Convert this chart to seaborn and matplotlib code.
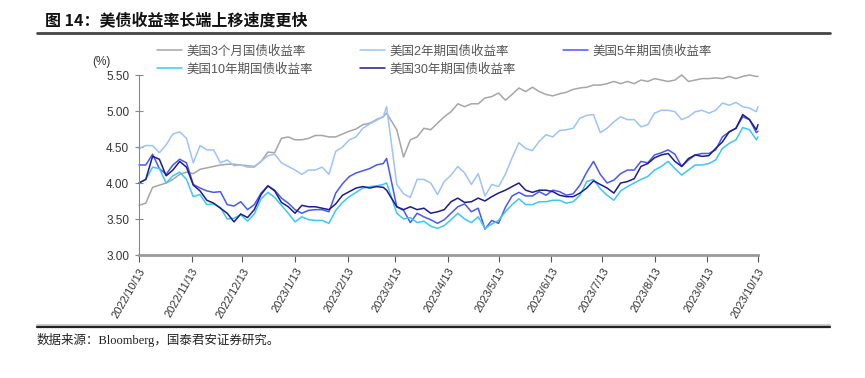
import pandas as pd
import matplotlib
matplotlib.use("Agg")
import matplotlib.pyplot as plt
import seaborn as sns
from matplotlib.lines import Line2D

# sample days from 2022/10/13
days = list(range(0, 148, 4)) + [146] + list(range(152, 365, 4)) + [365]

y3m = [3.69, 3.72, 3.94, 3.97, 4.00, 4.05, 4.12, 4.15, 4.13, 4.19, 4.21, 4.23, 4.25, 4.26, 4.26, 4.25, 4.24, 4.23, 4.30, 4.43, 4.42, 4.62, 4.64, 4.60,
       4.60, 4.62, 4.66, 4.66, 4.64, 4.64, 4.68, 4.72, 4.75, 4.81, 4.83, 4.88, 4.92, 4.97, 4.74, 4.36, 4.60, 4.64, 4.76, 4.74, 4.83, 4.92, 4.99,
       5.10, 5.06, 5.10, 5.10, 5.18, 5.20, 5.25, 5.15, 5.23, 5.32, 5.27, 5.33, 5.27, 5.23, 5.21, 5.24, 5.26, 5.30, 5.32, 5.33, 5.36, 5.36, 5.38,
       5.41, 5.38, 5.41, 5.38, 5.43, 5.41, 5.45, 5.43, 5.41, 5.43, 5.50, 5.41, 5.43, 5.45, 5.45, 5.46, 5.45, 5.48, 5.45, 5.48, 5.50, 5.48, 5.48]
y2y = [4.48, 4.52, 4.52, 4.42, 4.53, 4.68, 4.71, 4.62, 4.28, 4.52, 4.46, 4.46, 4.28, 4.32, 4.24, 4.25, 4.22, 4.22, 4.30, 4.38, 4.40, 4.28, 4.23, 4.18,
       4.12, 4.18, 4.18, 4.22, 4.12, 4.44, 4.50, 4.60, 4.64, 4.76, 4.82, 4.87, 4.92, 5.06, 3.98, 3.85, 3.80, 4.05, 4.05, 4.00, 3.84, 4.02, 4.11,
       4.23, 4.14, 3.98, 4.13, 3.82, 3.98, 3.95, 4.12, 4.35, 4.56, 4.48, 4.45, 4.58, 4.67, 4.64, 4.73, 4.74, 4.76, 4.90, 4.94, 4.95, 4.70, 4.76,
       4.85, 4.92, 4.88, 4.88, 4.78, 4.81, 4.97, 5.01, 5.01, 4.99, 4.88, 4.92, 4.99, 5.01, 4.97, 5.01, 5.11, 5.08, 5.12, 5.06, 5.04, 4.99, 5.06]
y5y = [4.25, 4.25, 4.40, 4.20, 4.12, 4.25, 4.33, 4.28, 3.98, 3.93, 3.89, 3.87, 3.88, 3.70, 3.68, 3.74, 3.63, 3.70, 3.86, 3.96, 3.90, 3.79, 3.72, 3.63,
       3.58, 3.62, 3.63, 3.63, 3.60, 3.86, 3.99, 4.09, 4.14, 4.17, 4.20, 4.25, 4.27, 4.34, 3.67, 3.62, 3.45, 3.58, 3.53, 3.49, 3.44, 3.49, 3.58,
       3.67, 3.71, 3.60, 3.65, 3.36, 3.48, 3.44, 3.66, 3.82, 3.87, 3.82, 3.82, 3.88, 3.83, 3.90, 3.88, 3.83, 3.85, 3.97, 4.15, 4.30, 4.12, 4.00,
       4.04, 4.13, 4.18, 4.18, 4.30, 4.28, 4.39, 4.42, 4.46, 4.40, 4.23, 4.32, 4.39, 4.41, 4.41, 4.46, 4.64, 4.71, 4.76, 4.92, 4.88, 4.70, 4.72]
y10y = [4.00, 4.05, 4.22, 4.20, 4.00, 4.10, 4.15, 4.05, 3.81, 3.84, 3.70, 3.71, 3.66, 3.50, 3.51, 3.56, 3.47, 3.57, 3.78, 3.87, 3.80, 3.69, 3.58, 3.46,
        3.53, 3.49, 3.48, 3.48, 3.44, 3.62, 3.73, 3.81, 3.87, 3.93, 3.95, 3.96, 3.98, 4.00, 3.58, 3.50, 3.52, 3.45, 3.47, 3.40, 3.37, 3.41, 3.49,
        3.58, 3.50, 3.45, 3.53, 3.37, 3.43, 3.48, 3.60, 3.70, 3.78, 3.70, 3.70, 3.74, 3.74, 3.76, 3.76, 3.72, 3.74, 3.83, 4.02, 4.05, 3.92, 3.83,
        3.76, 3.89, 3.95, 4.00, 4.05, 4.09, 4.18, 4.23, 4.30, 4.20, 4.11, 4.18, 4.25, 4.25, 4.27, 4.32, 4.48, 4.55, 4.60, 4.77, 4.74, 4.60, 4.64]
y30y = [4.00, 4.05, 4.37, 4.33, 4.10, 4.18, 4.30, 4.22, 3.97, 3.89, 3.76, 3.72, 3.65, 3.58, 3.46, 3.57, 3.52, 3.63, 3.84, 3.96, 3.89, 3.73, 3.67, 3.58,
        3.69, 3.67, 3.67, 3.65, 3.63, 3.71, 3.83, 3.88, 3.93, 3.95, 3.93, 3.95, 3.94, 3.90, 3.67, 3.63, 3.67, 3.63, 3.65, 3.58, 3.60, 3.63, 3.74,
        3.79, 3.73, 3.74, 3.79, 3.75, 3.81, 3.86, 3.90, 3.95, 4.00, 3.90, 3.87, 3.90, 3.90, 3.88, 3.83, 3.81, 3.81, 3.86, 3.93, 4.03, 3.98, 3.93,
        3.86, 4.00, 4.02, 4.06, 4.23, 4.27, 4.35, 4.39, 4.41, 4.30, 4.23, 4.34, 4.39, 4.37, 4.38, 4.48, 4.57, 4.71, 4.76, 4.95, 4.88, 4.74, 4.81]

names = ["美国3个月国债收益率", "美国2年期国债收益率", "美国5年期国债收益率", "美国10年期国债收益率", "美国30年期国债收益率"]
colors = ["#A6A6A6", "#9DC3F7", "#4A58EE", "#3DC6F5", "#1C1C8A"]

start = pd.Timestamp("2022-10-13")
dates = [start + pd.Timedelta(days=d) for d in days]
df = pd.DataFrame({"date": dates, names[0]: y3m, names[1]: y2y, names[2]: y5y,
                   names[3]: y10y, names[4]: y30y})
long = df.melt(id_vars="date", var_name="series", value_name="value")

sns.set_style("white")
plt.rcParams["font.family"] = ["Liberation Sans", "Noto Sans CJK SC"]

fig = plt.figure(figsize=(8.65, 3.78), dpi=100)
ax = fig.add_axes([139 / 865, 1 - 255 / 378, 619 / 865, 180 / 378])

sns.lineplot(data=long, x="date", y="value", hue="series", hue_order=names,
             palette=colors, linewidth=1.1, ax=ax, clip_on=False)

ax.set_xlim(start, pd.Timestamp("2023-10-13"))
ax.set_ylim(3.0, 5.5)
yt = [3.0, 3.5, 4.0, 4.5, 5.0, 5.5]
ax.set_yticks(yt)
ax.set_yticklabels([f"{v:.2f}" for v in yt])
ticks = [start + pd.DateOffset(months=i) for i in range(13)]
ax.set_xticks(ticks)
ax.set_xticklabels([f"{t.year}/{t.month}/{t.day}" for t in ticks], rotation=60,
                   ha="right", rotation_mode="anchor")
ax.set_xlabel("")
ax.set_ylabel("")
ax.tick_params(axis="y", direction="inout", length=6, width=0.8, color="#888888",
               labelsize=8.5, labelcolor="#333333", pad=4, left=True)
ax.tick_params(axis="x", direction="out", length=5, width=0.8, color="#555555",
               labelsize=8, labelcolor="#333333", pad=3, bottom=True)
for s in ["top", "right"]:
    ax.spines[s].set_visible(False)
ax.spines["left"].set_color("#888888")
ax.spines["left"].set_linewidth(0.8)
ax.spines["bottom"].set_color("#9A9A9A")
ax.spines["bottom"].set_linewidth(2.0)

# legend fills by column, so reorder to read row-wise like the original
handles, labels = ax.get_legend_handles_labels()
order = [0, 3, 1, 4, 2]
ax.legend([handles[i] for i in order], [labels[i] for i in order], ncol=3,
          frameon=False, fontsize=9, loc="upper left",
          bbox_to_anchor=(146 / 865, 1 - 34 / 378), bbox_transform=fig.transFigure,
          handlelength=2.0, handletextpad=0.35, columnspacing=3.75,
          labelspacing=0.45, labelcolor="#555555")

fig.text(92 / 865, 1 - 62 / 378, "(%)", fontsize=8.5, color="#333333", va="center")

fig.text(45 / 865, 1 - 20 / 378, "图 14：美债收益率长端上移速度更快", fontsize=11.5,
         fontweight="bold", va="center", family=["Noto Sans CJK SC"], color="#111111")
fig.add_artist(Line2D([37 / 865, 830 / 865], [1 - 33 / 378, 1 - 33 / 378],
                      color="#444444", linewidth=2.0, transform=fig.transFigure))
fig.add_artist(Line2D([37 / 865, 830 / 865], [1 - 324.5 / 378, 1 - 324.5 / 378],
                      color="#CCCCCC", linewidth=1.5, transform=fig.transFigure))
fig.add_artist(Line2D([37 / 865, 830 / 865], [1 - 327 / 378, 1 - 327 / 378],
                      color="#222222", linewidth=1.6, transform=fig.transFigure))
fig.text(37 / 865, 1 - 340 / 378, "数据来源：Bloomberg，国泰君安证券研究。", fontsize=9,
         va="center", family=["Liberation Serif", "Noto Sans CJK SC"], color="#222222")

fig.savefig("out.png", dpi=100)
